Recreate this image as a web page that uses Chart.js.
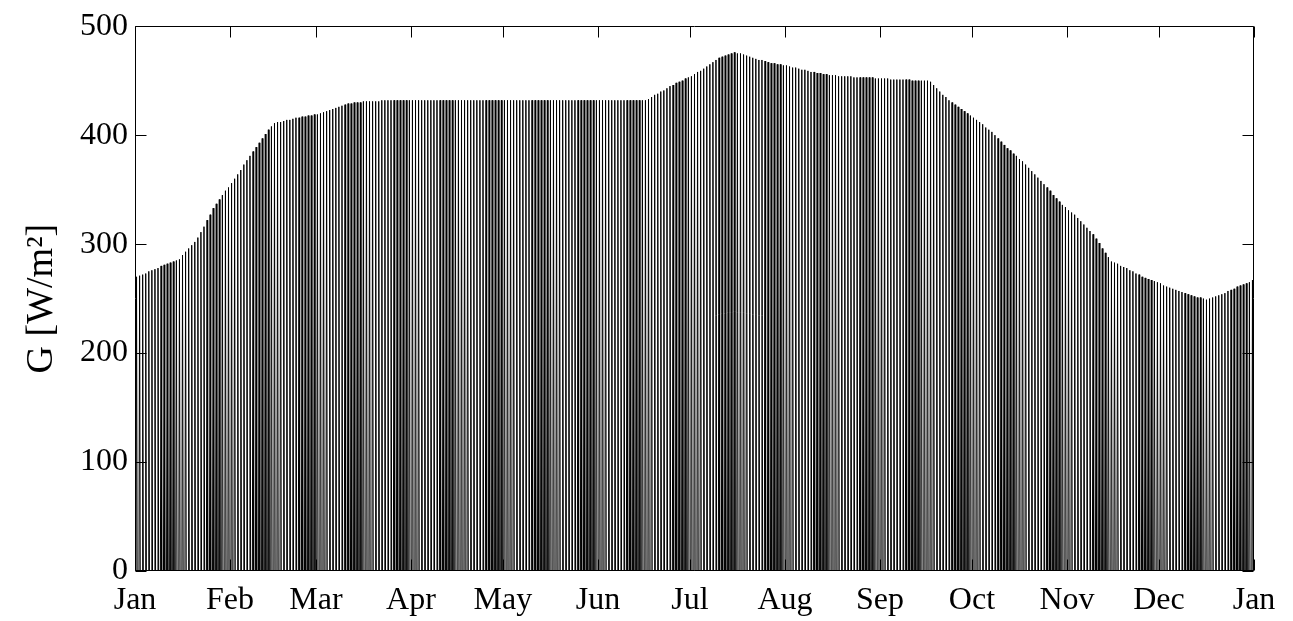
<!DOCTYPE html>
<html>
<head>
<meta charset="utf-8">
<script src="https://cdn.jsdelivr.net/npm/chart.js@4.4.1/dist/chart.umd.min.js"></script>
<style>
  html, body { margin: 0; padding: 0; background: #fff; }
  #wrap { width: 1293px; height: 621px; position: relative; }
</style>
</head>
<body>
<div id="wrap"><canvas id="c"></canvas></div>
<script>
// Daily peak irradiance G [W/m²], one value per day
const janPeaks = [270,271,272,273,275,276,277,278,280,281,282,283,284,285,286,290,293,296,299,302,306,311,316,322,327,333,337,341,345,349,352];
const febPeaks = [356,360,364,368,373,377,381,385,389,393,397,401,405,408,411,412,412,413,414,414,415,416,416,417,417,418,418,419];
const marPeaks = [419,420,421,422,423,424,425,426,427,428,429,429,430,430,430,431,431,431,431,431,431,432,432,432,432,432,432,432,432,432,432];
const aprPeaks = [432,432,432,432,432,432,432,432,432,432,432,432,432,432,432,432,432,432,432,432,432,432,432,432,432,432,432,432,432,432];
const mayPeaks = [432,432,432,432,432,432,432,432,432,432,432,432,432,432,432,432,432,432,432,432,432,432,432,432,432,432,432,432,432,432,432];
const junPeaks = [432,432,432,432,432,432,432,432,432,432,432,432,432,432,432,432,433,435,437,438,440,441,443,445,446,448,449,450,452,453];
const julPeaks = [454,456,458,459,461,463,465,467,469,471,472,473,474,475,476,475,475,474,473,472,471,470,469,469,468,467,466,466,465,465,464];
const augPeaks = [464,463,462,462,461,460,460,459,458,458,457,457,456,456,455,455,455,454,454,454,454,454,453,453,453,453,453,453,453,452,452];
const sepPeaks = [452,452,452,451,451,451,451,451,451,451,450,450,450,450,450,450,449,446,443,440,437,435,432,430,428,426,424,422,420,418,416];
const octPeaks = [414,412,410,407,405,403,400,397,394,391,388,386,383,381,378,376,373,370,367,364,361,358,355,352,349,345,342,339,336,334,331];
const novPeaks = [329,327,324,321,318,315,312,309,305,301,296,292,288,284,283,282,280,279,278,276,275,273,272,270,269,268,267,266,265,264];
const decPeaks = [262,261,260,259,258,257,256,255,254,253,252,251,251,250,249,250,251,252,253,254,255,257,258,259,261,262,263,264,265,267,268];

// Hours of sunrise, noon and sunset within each day (night values are 0)
const dayHours = [7, 12, 17];

// Axis tick labels
const monthLabels = ['Jan','Feb','Mar','Apr','May','Jun','Jul','Aug','Sep','Oct','Nov','Dec','Jan'];
const monthStarts = [0,31,59,90,120,151,181,212,243,273,304,334,365];
const yTicks = [0,100,200,300,400,500];

const allPeaks = [].concat(janPeaks,febPeaks,marPeaks,aprPeaks,mayPeaks,junPeaks,
                           julPeaks,augPeaks,sepPeaks,octPeaks,novPeaks,decPeaks);

const points = [];
allPeaks.forEach((p, d) => {
  points.push({x: d + dayHours[0] / 24, y: 0});
  points.push({x: d + dayHours[1] / 24, y: p});
  points.push({x: d + dayHours[2] / 24, y: 0});
});

const FONT = 'Liberation Serif, Times New Roman, serif';

const boxPlugin = {
  id: 'matlabBox',
  afterDraw(chart) {
    const ctx = chart.ctx;
    const a = chart.chartArea;
    const xs = chart.scales.x, ys = chart.scales.y;
    const L = Math.round(a.left) + 0.5, R = Math.round(a.right) - 0.5;
    const T = Math.round(a.top) + 0.5, B = Math.round(a.bottom) - 0.5;
    ctx.save();
    ctx.strokeStyle = '#000';
    ctx.lineWidth = 1;
    ctx.beginPath();
    ctx.rect(L, T, R - L, B - T);
    const tl = 11;
    yTicks.forEach(v => {
      const py = Math.round(ys.getPixelForValue(v)) + 0.5;
      ctx.moveTo(L, py); ctx.lineTo(L + tl, py);
      ctx.moveTo(R, py); ctx.lineTo(R - tl, py);
    });
    monthStarts.forEach(v => {
      const px = Math.round(xs.getPixelForValue(v)) + 0.5;
      ctx.moveTo(px, T); ctx.lineTo(px, T + tl);
      ctx.moveTo(px, B); ctx.lineTo(px, B - tl);
    });
    ctx.stroke();
    ctx.restore();
  }
};

new Chart(document.getElementById('c'), {
  type: 'line',
  data: {
    datasets: [{
      data: points,
      borderColor: '#000',
      borderWidth: 1,
      pointRadius: 0,
      tension: 0,
      fill: false
    }]
  },
  options: {
    responsive: true,
    maintainAspectRatio: false,
    animation: false,
    parsing: false,
    normalized: true,
    layout: { padding: { top: 25, right: 39, bottom: 0, left: 0 } },
    plugins: { legend: { display: false }, tooltip: { enabled: false } },
    scales: {
      x: {
        type: 'linear',
        min: 0, max: 365,
        grid: { display: false, drawTicks: false },
        border: { display: false },
        afterBuildTicks(scale) { scale.ticks = monthStarts.map(v => ({ value: v })); },
        afterFit(scale) { scale.height = 50; },
        ticks: {
          autoSkip: false, maxRotation: 0, minRotation: 0,
          padding: 10,
          color: '#000',
          font: { family: FONT, size: 32 },
          callback: (v, i) => monthLabels[i]
        }
      },
      y: {
        min: 0, max: 500,
        grid: { display: false, drawTicks: false },
        border: { display: false },
        afterBuildTicks(scale) { scale.ticks = yTicks.map(v => ({ value: v })); },
        afterFit(scale) { scale.width = 135; },
        ticks: {
          padding: 7,
          color: '#000',
          font: { family: FONT, size: 32 },
          callback: v => String(v)
        },
        title: {
          display: true,
          text: 'G [W/m²]',
          color: '#000',
          font: { family: FONT, size: 38 },
          padding: { top: 19, bottom: 0 }
        }
      }
    }
  },
  plugins: [boxPlugin]
});
</script>
</body>
</html>
